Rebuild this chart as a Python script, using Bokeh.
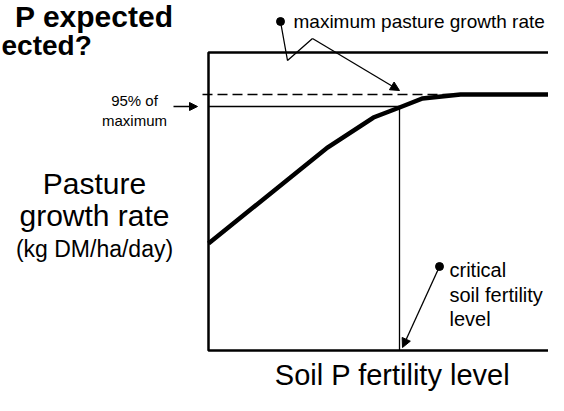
from bokeh.plotting import figure
from bokeh.models import Range1d, Arrow, NormalHead
from bokeh.core.properties import value
from bokeh.embed import file_html
from bokeh.resources import INLINE

# ---- data (chart units: x = soil P fertility, y = pasture growth rate) ----
fertility = [0, 119, 165, 191, 214, 252, 347]
growth = [107, 203, 233, 243, 252, 256, 256]
max_growth = 256
pct95_growth = 244
critical_fertility = 191

title_lines = ["P expected", "ected?"]
ylabel_lines = ["Pasture", "growth rate"]
ylabel_units = "(kg DM/ha/day)"
xlabel = "Soil P fertility level"
max_label = "maximum pasture growth rate"
pct_lines = ["95% of", "maximum"]
crit_lines = ["critical", "soil fertility", "level"]

FONT = value("Liberation Sans")

p = figure(width=548, height=395, output_backend="svg", toolbar_location=None,
           x_range=Range1d(-208, 340), y_range=Range1d(-45, 350), min_border=0)
p.axis.visible = False
p.grid.visible = False
p.outline_line_color = None
p.background_fill_color = "white"

# box (left, top, bottom; right side runs off the picture)
p.line([360, 0, 0, 360], [298, 298, 0, 0], line_color="black", line_width=2.5)

# maximum (dashed) and 95% line
p.line([-6, 356], [max_growth, max_growth], line_color="black", line_width=1.5, line_dash="10 5")
p.line([0, critical_fertility, critical_fertility], [pct95_growth, pct95_growth, 0],
       line_color="black", line_width=1.3)

# response curve
p.line(fertility, growth, line_color="black", line_width=4.5, line_join="miter")

# title (partial, as in the source)
p.text(x=[-35], y=[334], text=[title_lines[0]], text_font=FONT, text_font_style="bold",
       text_font_size="30px", text_align="right", text_baseline="alphabetic", text_color="black")
p.text(x=[-207], y=[305], text=[title_lines[1]], text_font=FONT, text_font_style="bold",
       text_font_size="28px", text_align="left", text_baseline="alphabetic", text_color="black")

# y label
p.text(x=[-114, -114], y=[167, 135], text=ylabel_lines, text_font=FONT, text_font_size="30px",
       text_align="center", text_baseline="alphabetic", text_color="black")
p.text(x=[-114], y=[102], text=[ylabel_units], text_font=FONT, text_font_size="23px",
       text_align="center", text_baseline="alphabetic", text_color="black")

# x label
p.text(x=[184], y=[-24], text=[xlabel], text_font=FONT, text_font_size="29px",
       text_align="center", text_baseline="alphabetic", text_color="black")

# 95% label and arrow
p.text(x=[-74, -74], y=[250, 230], text=pct_lines, text_font=FONT, text_font_size="15px",
       text_align="center", text_baseline="alphabetic", text_color="black")
p.add_layout(Arrow(end=NormalHead(size=8, fill_color="black", line_color="black"),
                   x_start=-35, y_start=pct95_growth, x_end=-11, y_end=pct95_growth,
                   line_color="black", line_width=1.5))

# maximum pasture growth rate annotation
p.scatter([72], [329], size=8, color="black")
p.line([72, 79, 104], [329, 290, 312], line_color="black", line_width=1.3)
p.add_layout(Arrow(end=NormalHead(size=9, fill_color="black", line_color="black"),
                   x_start=104, y_start=312, x_end=191, y_end=260,
                   line_color="black", line_width=1.3))
p.text(x=[85], y=[329], text=[max_label], text_font=FONT, text_font_size="19px",
       text_align="left", text_baseline="alphabetic", text_color="black")

# critical soil fertility annotation
p.scatter([231], [84], size=8, color="black")
p.add_layout(Arrow(end=NormalHead(size=9, fill_color="black", line_color="black"),
                   x_start=231, y_start=84, x_end=194, y_end=3,
                   line_color="black", line_width=1.3))
p.text(x=[241, 241, 241], y=[81, 56, 32], text=crit_lines, text_font=FONT, text_font_size="20px",
       text_align="left", text_baseline="alphabetic", text_color="black")

open("out.html", "w").write(file_html(p, INLINE))
